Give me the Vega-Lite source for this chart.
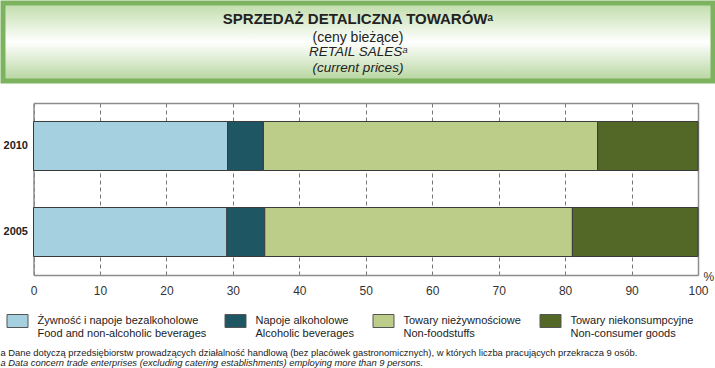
{
  "$schema": "https://vega.github.io/schema/vega-lite/v6.json",
  "padding": 0,
  "background": "white",
  "config": {"font": "Liberation Sans, DejaVu Sans, sans-serif"},
  "datasets": {
    "header": [
      {"line": 1, "text": "SPRZEDAŻ DETALICZNA TOWARÓWᵃ", "style": "bold"},
      {"line": 2, "text": "(ceny bieżące)", "style": "normal"},
      {"line": 3, "text": "RETAIL SALESᵃ", "style": "italic"},
      {"line": 4, "text": "(current prices)", "style": "italic"}
    ],
    "sales": [
      {"rok": "2010", "kategoria": "Żywność i napoje bezalkoholowe", "kolejnosc": 1, "udzial": 29.2},
      {"rok": "2010", "kategoria": "Napoje alkoholowe", "kolejnosc": 2, "udzial": 5.4},
      {"rok": "2010", "kategoria": "Towary nieżywnościowe", "kolejnosc": 3, "udzial": 50.3},
      {"rok": "2010", "kategoria": "Towary niekonsumpcyjne", "kolejnosc": 4, "udzial": 15.1},
      {"rok": "2005", "kategoria": "Żywność i napoje bezalkoholowe", "kolejnosc": 1, "udzial": 29.1},
      {"rok": "2005", "kategoria": "Napoje alkoholowe", "kolejnosc": 2, "udzial": 5.7},
      {"rok": "2005", "kategoria": "Towary nieżywnościowe", "kolejnosc": 3, "udzial": 46.3},
      {"rok": "2005", "kategoria": "Towary niekonsumpcyjne", "kolejnosc": 4, "udzial": 18.9}
    ]
  },
  "title": {
    "text": "a Dane dotyczą przedsiębiorstw prowadzących działalność handlową (bez placówek gastronomicznych), w których liczba pracujących przekracza 9 osób.",
    "subtitle": "a Data concern trade enterprises (excluding catering establishments) employing more than 9 persons.",
    "orient": "bottom",
    "anchor": "start",
    "frame": "bounds",
    "fontSize": 9.4,
    "fontWeight": "normal",
    "color": "#222222",
    "subtitleFontSize": 9.4,
    "subtitleFontStyle": "italic",
    "subtitleColor": "#222222",
    "subtitlePadding": 1,
    "offset": 10
  },
  "spacing": 19,
  "vconcat": [
    {
      "width": 710,
      "height": 78,
      "view": {
        "stroke": "#7db35e", "strokeWidth": 5,
        "fill": {
          "gradient": "linear", "x1": 0, "y1": 0, "x2": 0, "y2": 1,
          "stops": [
            {"offset": 0, "color": "#bfdca8"},
            {"offset": 0.5, "color": "#ffffff"},
            {"offset": 1, "color": "#b5d59d"}
          ]
        }
      },
      "data": {"name": "header"},
      "layer": [
        {
          "transform": [{"filter": "datum.style == 'bold'"}],
          "mark": {"type": "text", "fontSize": 15, "fontWeight": "bold", "color": "#222222", "baseline": "alphabetic"},
          "encoding": {
            "y": {"field": "line", "type": "ordinal", "scale": {"type": "point", "padding": 1.1, "align": 0.68}, "axis": null},
            "text": {"field": "text"}
          }
        },
        {
          "transform": [{"filter": "datum.style == 'normal'"}],
          "mark": {"type": "text", "fontSize": 14, "color": "#222222", "baseline": "alphabetic", "dy": 2},
          "encoding": {
            "y": {"field": "line", "type": "ordinal", "axis": null},
            "text": {"field": "text"}
          }
        },
        {
          "transform": [{"filter": "datum.style == 'italic'"}],
          "mark": {"type": "text", "fontSize": 13.5, "fontStyle": "italic", "color": "#222222", "baseline": "alphabetic", "dy": 1},
          "encoding": {
            "y": {"field": "line", "type": "ordinal", "axis": null},
            "text": {"field": "text"}
          }
        }
      ]
    },
    {
      "width": 695,
      "height": 172,
      "view": {"stroke": null},
      "data": {"name": "sales"},
      "layer": [
        {
          "mark": {"type": "bar", "stroke": "#3a3a3a", "strokeWidth": 1},
          "encoding": {
            "y": {
              "field": "rok", "type": "nominal", "sort": ["2010", "2005"],
              "scale": {"paddingInner": 0.43, "paddingOuter": 0.215},
              "axis": {"title": null, "orient": "left", "offset": -30.5, "domain": true, "domainColor": "#8c8c8c", "domainWidth": 1.5, "ticks": false, "labelFontWeight": "bold", "labelFontSize": 11, "labelPadding": 6, "labelColor": "#222222"}
            },
            "x": {
              "field": "udzial", "type": "quantitative", "stack": "zero",
              "scale": {"domain": [0, 100], "nice": false, "range": [30.5, 695]},
              "axis": {
                "title": "%", "orient": "bottom", "values": [0, 10, 20, 30, 40, 50, 60, 70, 80, 90, 100],
                "domain": true, "domainColor": "#8c8c8c", "domainWidth": 1.5,
                "ticks": false, "grid": true, "gridDash": [4, 3], "gridColor": "#777777", "gridWidth": 1,
                "labelFontSize": 12, "labelColor": "#333333", "labelPadding": 10, "labelFlush": false,
                "titleX": 700, "titleY": 1, "titleAlign": "left", "titleBaseline": "middle", "titleFontWeight": "normal", "titleFontSize": 12, "titleColor": "#333333"
              }
            },
            "color": {
              "field": "kategoria", "type": "nominal",
              "scale": {
                "domain": ["Żywność i napoje bezalkoholowe", "Napoje alkoholowe", "Towary nieżywnościowe", "Towary niekonsumpcyjne"],
                "range": ["#a5d0e0", "#1f5664", "#bccd8a", "#536827"]
              },
              "legend": {
                "title": null, "orient": "none", "legendX": 3.5, "legendY": 307, "direction": "horizontal", "padding": 0,
                "labelExpr": "datum.label == 'Żywność i napoje bezalkoholowe' ? [datum.label, 'Food and non-alcoholic beverages'] : datum.label == 'Napoje alkoholowe' ? [datum.label, 'Alcoholic beverages'] : datum.label == 'Towary nieżywnościowe' ? [datum.label, 'Non-foodstuffs'] : [datum.label, 'Non-consumer goods']",
                "symbolType": "M-1,-0.619H1V0.619H-1Z", "symbolSize": 441, "symbolStrokeColor": "#555555", "symbolStrokeWidth": 1, "symbolOpacity": 1,
                "labelFontSize": 11, "labelOffset": 9, "columnPadding": 16, "labelColor": "#222222", "labelLimit": 300
              }
            },
            "order": {"field": "kolejnosc"}
          }
        },
        {
          "mark": {"type": "bar", "opacity": 0},
          "encoding": {
            "y": {
              "field": "rok", "type": "nominal", "sort": ["2010", "2005"],
              "axis": {"title": null, "orient": "right", "labels": false, "ticks": false, "domain": true, "domainColor": "#8c8c8c", "domainWidth": 1.5}
            },
            "x": {
              "field": "udzial", "type": "quantitative", "stack": "zero",
              "axis": {"title": null, "orient": "top", "labels": false, "ticks": false, "grid": false, "domain": true, "domainColor": "#8c8c8c", "domainWidth": 1.5}
            }
          }
        }
      ],
      "resolve": {"axis": {"x": "independent", "y": "independent"}}
    }
  ]
}
